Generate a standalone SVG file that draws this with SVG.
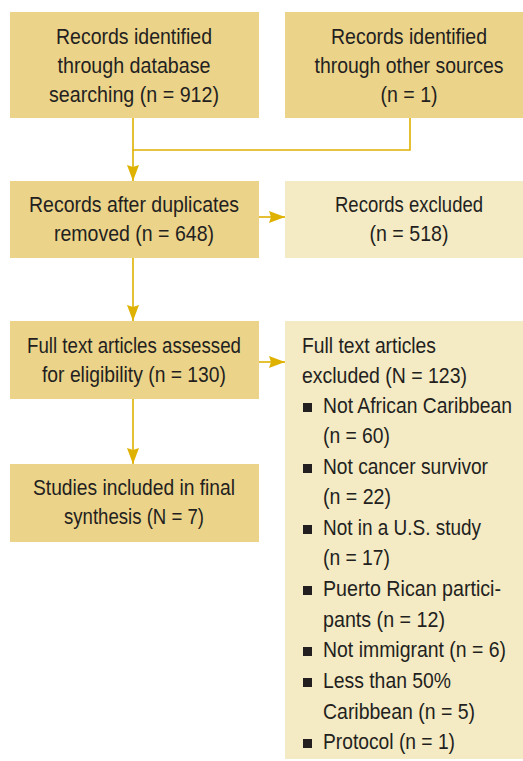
<svg xmlns="http://www.w3.org/2000/svg" width="523" height="761" viewBox="0 0 523 761">
  <defs>
    <marker id="arrow" markerUnits="userSpaceOnUse" markerWidth="16" markerHeight="12" refX="16" refY="6" orient="auto">
      <path d="M0,0 L16,6 L0,12 L2,6 Z" fill="#DFB100"/>
    </marker>
    <style>
      .main { fill: #ECD38A; }
      .light { fill: #F4EAC4; }
      text { font-family: "Liberation Sans", Arial, sans-serif; font-size: 22px; fill: #231F20; }
      .c { text-anchor: middle; }
      .conn { fill: none; stroke: #DFB100; stroke-width: 1.6; }
      .bullet { fill: #231F20; }
    </style>
  </defs>
  <rect width="523" height="761" fill="#FFFFFF"/>

  <g id="connectors">
    <path class="conn" d="M133,118 V150 H410 V118"/>
    <path class="conn" d="M133,150 V181" marker-end="url(#arrow)"/>
    <path class="conn" d="M259,217 H285" marker-end="url(#arrow)"/>
    <path class="conn" d="M133,258 V321" marker-end="url(#arrow)"/>
    <path class="conn" d="M259,362 H285" marker-end="url(#arrow)"/>
    <path class="conn" d="M133,399 V464" marker-end="url(#arrow)"/>
  </g>

  <g id="db-search">
    <rect class="main" x="10" y="12" width="249" height="106"/>
    <text class="c" x="134" y="44" textLength="156" lengthAdjust="spacingAndGlyphs">Records identified</text>
    <text class="c" x="134" y="73" textLength="153" lengthAdjust="spacingAndGlyphs">through database</text>
    <text class="c" x="134" y="102" textLength="170" lengthAdjust="spacingAndGlyphs">searching (n = 912)</text>
  </g>

  <g id="other-sources">
    <rect class="main" x="285" y="12" width="238" height="106"/>
    <text class="c" x="409" y="44" textLength="156" lengthAdjust="spacingAndGlyphs">Records identified</text>
    <text class="c" x="0" y="0" transform="translate(409,73) scale(0.88,1)" textLength="214.8" lengthAdjust="spacingAndGlyphs">through other sources</text>
    <text class="c" x="409" y="102" textLength="57" lengthAdjust="spacingAndGlyphs">(n = 1)</text>
  </g>

  <g id="duplicates-removed">
    <rect class="main" x="10" y="181" width="249" height="77"/>
    <text class="c" x="134" y="212" textLength="210" lengthAdjust="spacingAndGlyphs">Records after duplicates</text>
    <text class="c" x="134" y="241" textLength="160" lengthAdjust="spacingAndGlyphs">removed (n = 648)</text>
  </g>

  <g id="records-excluded">
    <rect class="light" x="285" y="181" width="238" height="77"/>
    <text class="c" x="409" y="212" textLength="148" lengthAdjust="spacingAndGlyphs">Records excluded</text>
    <text class="c" x="409" y="241" textLength="79" lengthAdjust="spacingAndGlyphs">(n = 518)</text>
  </g>

  <g id="full-text-assessed">
    <rect class="main" x="10" y="321" width="249" height="78"/>
    <text class="c" x="134" y="353" textLength="214" lengthAdjust="spacingAndGlyphs">Full text articles assessed</text>
    <text class="c" x="134" y="382" textLength="184" lengthAdjust="spacingAndGlyphs">for eligibility (n = 130)</text>
  </g>

  <g id="full-text-excluded">
    <rect class="light" x="285" y="321" width="238" height="438"/>
    <text x="302" y="353" textLength="134" lengthAdjust="spacingAndGlyphs">Full text articles</text>
    <text x="302" y="383" textLength="165" lengthAdjust="spacingAndGlyphs">excluded (N = 123)</text>
    <rect class="bullet" x="303" y="403" width="9" height="9"/>
    <text x="0" y="0" transform="translate(323,413) scale(0.87,1)" textLength="217.2" lengthAdjust="spacingAndGlyphs">Not African Caribbean</text>
    <text x="323" y="443" textLength="67" lengthAdjust="spacingAndGlyphs">(n = 60)</text>
    <rect class="bullet" x="303" y="464" width="9" height="9"/>
    <text x="323" y="474" textLength="165" lengthAdjust="spacingAndGlyphs">Not cancer survivor</text>
    <text x="323" y="504" textLength="68" lengthAdjust="spacingAndGlyphs">(n = 22)</text>
    <rect class="bullet" x="303" y="525" width="9" height="9"/>
    <text x="323" y="535" textLength="158" lengthAdjust="spacingAndGlyphs">Not in a U.S. study</text>
    <text x="323" y="565" textLength="67" lengthAdjust="spacingAndGlyphs">(n = 17)</text>
    <rect class="bullet" x="303" y="586" width="9" height="9"/>
    <text x="323" y="596" textLength="178" lengthAdjust="spacingAndGlyphs">Puerto Rican partici-</text>
    <text x="323" y="627" textLength="122" lengthAdjust="spacingAndGlyphs">pants (n = 12)</text>
    <rect class="bullet" x="303" y="647" width="9" height="9"/>
    <text x="0" y="0" transform="translate(323,657) scale(0.86,1)" textLength="212.8" lengthAdjust="spacingAndGlyphs">Not immigrant (n = 6)</text>
    <rect class="bullet" x="303" y="678" width="9" height="9"/>
    <text x="323" y="688" textLength="128" lengthAdjust="spacingAndGlyphs">Less than 50%</text>
    <text x="323" y="719" textLength="152" lengthAdjust="spacingAndGlyphs">Caribbean (n = 5)</text>
    <rect class="bullet" x="303" y="739" width="9" height="9"/>
    <text x="323" y="749" textLength="132" lengthAdjust="spacingAndGlyphs">Protocol (n = 1)</text>
  </g>

  <g id="studies-included">
    <rect class="main" x="10" y="464" width="249" height="78"/>
    <text class="c" x="134" y="495" textLength="202" lengthAdjust="spacingAndGlyphs">Studies included in final</text>
    <text class="c" x="134" y="524" textLength="140" lengthAdjust="spacingAndGlyphs">synthesis (N = 7)</text>
  </g>
</svg>
